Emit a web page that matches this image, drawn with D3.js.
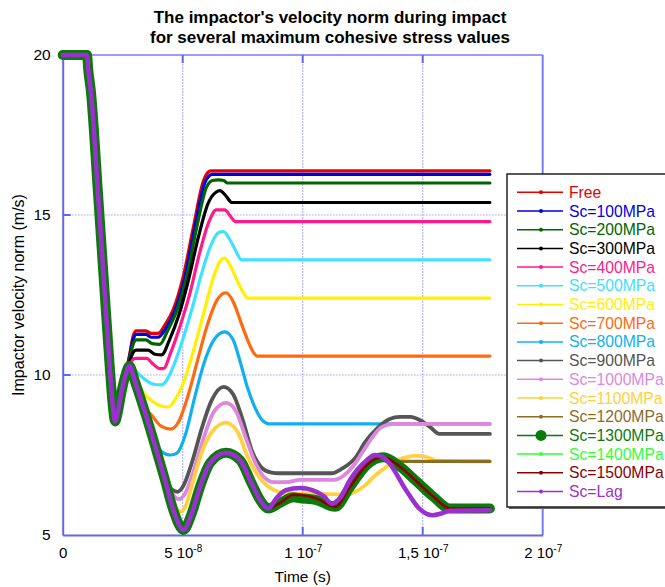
<!DOCTYPE html>
<html>
<head>
<meta charset="utf-8">
<script src="https://cdn.jsdelivr.net/npm/d3@7"></script>
<style>
body { margin: 0; background: #fff; }
text { font-family: "Liberation Sans", Arial, sans-serif; }
</style>
</head>
<body>
<div id="chart"></div>
<script>
// time in units of 1e-8 s, velocity norm in m/s
var startPts = [[0,20],[1.01,20],[1.07,19.5],[1.17,18.9],[1.46,15.8],[1.76,12.45],[1.97,10.15],[2.10,8.95],[2.18,8.55],[2.30,8.85],[2.43,9.4],[2.60,9.95]];
var mainPts = [[2.78,10.28],[3.01,9.8],[3.36,9.0],[3.78,7.97],[4.26,6.72],[4.61,5.78],[5.03,5.16],[5.38,5.68],[5.72,6.5],[6.14,7.25],[6.80,7.57],[7.39,7.34],[7.88,6.6],[8.22,6.1],[8.57,5.83],[9.05,6.0],[9.61,6.18],[9.89,6.15],[10.58,6.09],[11.35,5.88],[11.97,6.5],[12.67,7.19],[13.36,7.43],[14.05,7.14],[14.75,6.67],[15.44,6.2],[16.14,5.83],[17.80,5.83]];

var freePts = [[2.78,10.6],[2.93,11.2],[3.05,11.38],[3.47,11.38],[3.68,11.3],[3.97,11.3],[4.25,11.55],[4.61,12.05],[5.03,13.1],[5.44,14.6],[5.86,16.05],[6.05,16.33],[6.18,16.38],[17.80,16.38]];
var s100Pts = [[2.78,10.55],[2.93,11.1],[3.05,11.27],[3.47,11.27],[3.68,11.18],[3.97,11.18],[4.29,11.45],[4.67,12.0],[5.09,13.05],[5.50,14.6],[5.92,16.0],[6.10,16.22],[6.22,16.27],[17.80,16.27]];
var s200Pts = [[2.78,10.5],[2.93,10.95],[3.05,11.1],[3.47,11.1],[3.72,10.98],[4.05,10.96],[4.38,11.4],[4.75,12.0],[5.15,13.0],[5.58,14.6],[5.98,15.85],[6.25,16.08],[6.5,16.1],[6.71,16.08],[6.85,16.0],[17.80,16.0]];
var s300Pts = [[2.78,10.4],[2.93,10.7],[3.05,10.78],[3.55,10.78],[3.85,10.65],[4.12,10.63],[4.45,11.1],[4.85,11.9],[5.25,13.0],[5.65,14.3],[6.05,15.35],[6.4,15.72],[6.55,15.76],[6.8,15.6],[7.05,15.39],[17.80,15.39]];
var s400Pts = [[2.78,10.3],[3.0,10.52],[3.5,10.52],[3.75,10.35],[4.05,10.2],[4.2,10.2],[4.5,10.7],[4.9,11.55],[5.3,12.55],[5.7,13.8],[6.1,14.8],[6.4,15.16],[6.75,15.16],[7.0,14.95],[7.2,14.79],[17.80,14.79]];
var s500Pts = [[2.78,10.28],[3.0,10.15],[3.36,9.9],[3.75,9.72],[4.1,9.69],[4.3,9.8],[4.6,10.25],[5.0,11.1],[5.4,12.1],[5.8,13.2],[6.2,14.1],[6.5,14.45],[6.7,14.48],[6.95,14.25],[7.2,13.9],[7.45,13.6],[17.80,13.6]];
var s600Pts = [[2.78,10.28],[3.01,9.85],[3.3,9.5],[3.7,9.2],[4.1,9.03],[4.4,9.0],[4.7,9.25],[5.1,9.9],[5.5,10.9],[5.9,12.0],[6.3,13.1],[6.6,13.6],[6.75,13.65],[7.0,13.4],[7.3,12.9],[7.55,12.55],[7.7,12.4],[17.80,12.4]];
var s700Pts = [[3.36,9.05],[3.7,8.75],[4.1,8.4],[4.5,8.31],[4.8,8.5],[5.2,9.3],[5.6,10.4],[6.0,11.5],[6.4,12.3],[6.8,12.57],[7.1,12.3],[7.4,11.7],[7.7,11.1],[7.95,10.7],[8.1,10.59],[17.80,10.59]];
var s800Pts = [[3.78,8.0],[4.1,7.62],[4.5,7.5],[4.75,7.55],[5.1,8.1],[5.5,9.3],[5.9,10.4],[6.3,11.1],[6.75,11.35],[7.1,11.1],[7.4,10.4],[7.7,9.6],[8.0,9.0],[8.3,8.6],[8.6,8.47],[17.80,8.47]];
var s900Pts = [[4.26,6.72],[4.55,6.42],[4.78,6.35],[5.0,6.5],[5.4,7.3],[5.8,8.35],[6.2,9.2],[6.7,9.63],[7.1,9.4],[7.5,8.6],[7.9,7.6],[8.3,7.1],[8.7,6.95],[9.0,6.93],[11.2,6.93],[11.65,7.08],[12.2,7.42],[12.6,7.9],[13.1,8.33],[13.6,8.62],[14.05,8.69],[14.5,8.69],[14.85,8.6],[15.3,8.38],[15.7,8.16],[17.80,8.16]];
var s1000Pts = [[4.35,6.6],[4.6,6.25],[4.85,6.12],[5.1,6.3],[5.5,7.1],[5.9,8.1],[6.3,8.85],[6.8,9.13],[7.2,8.9],[7.6,8.1],[8.0,7.3],[8.4,6.8],[8.8,6.65],[9.3,6.65],[9.9,6.72],[11.3,6.72],[11.7,6.85],[12.1,7.15],[12.5,7.6],[12.9,8.05],[13.3,8.38],[13.8,8.47],[17.80,8.47]];
var s1100Pts = [[4.26,6.75],[4.55,6.1],[4.9,5.73],[5.15,5.95],[5.4,6.6],[5.8,7.6],[6.2,8.2],[6.8,8.51],[7.3,8.2],[7.7,7.45],[8.1,6.9],[8.5,6.55],[9.0,6.35],[9.4,6.3],[11.5,6.27],[11.8,6.25],[12.1,6.32],[12.6,6.55],[13.0,6.85],[13.4,7.08],[13.8,7.3],[14.3,7.43],[14.75,7.47],[15.2,7.43],[15.6,7.32],[17.80,7.3]];
var s1200Tail = [[13.7,7.38],[14.05,7.3],[17.80,7.3]];
var s1500Mid = [[9.61,6.25],[9.89,6.25],[10.58,6.14]];
var lagPts = [[8.9,6.15],[9.3,6.4],[9.89,6.47],[10.4,6.4],[10.9,6.2],[11.2,5.98],[11.6,6.2],[11.97,6.72],[12.67,7.34],[13.0,7.5],[13.3,7.45],[13.6,7.25],[14.3,6.41],[14.85,5.83],[15.4,5.62],[15.8,5.68],[16.14,5.76],[17.80,5.77]];

var seriesNames = ["Free","Sc=100MPa","Sc=200MPa","Sc=300MPa","Sc=400MPa","Sc=500MPa","Sc=600MPa","Sc=700MPa","Sc=800MPa","Sc=900MPa","Sc=1000MPa","Sc=1100MPa","Sc=1200MPa","Sc=1300MPa","Sc=1400MPa","Sc=1500MPa","Sc=Lag"];
var seriesColors = ["#e60000","#0000dd","#006400","#000000","#ff1a8c","#40e0ff","#fff000","#ff6a10","#10b0f0","#555555","#dd88dd","#ffd040","#8b6d1f","#0b7a0b","#33ff33","#8b0000","#9b30d0"];

var xTickVals = [0, 5e-8, 1e-7, 1.5e-7, 2e-7];
var xTickMant = ["0", "5 10", "1 10", "1,5 10", "2 10"];
var xTickExp = ["", "-8", "-7", "-7", "-7"];
var yTickVals = [5, 10, 15, 20];

var mainFull = startPts.concat(mainPts);
function upTo(t) { return mainFull.filter(function(p) { return p[0] <= t + 1e-9; }); }
function from(t) { return mainFull.filter(function(p) { return p[0] >= t - 1e-9; }); }

var seriesData = [
    startPts.concat(freePts),
    startPts.concat(s100Pts),
    startPts.concat(s200Pts),
    startPts.concat(s300Pts),
    startPts.concat(s400Pts),
    startPts.concat(s500Pts),
    startPts.concat(s600Pts),
    upTo(3.01).concat(s700Pts),
    upTo(3.36).concat(s800Pts),
    upTo(3.78).concat(s900Pts),
    upTo(4.26).concat(s1000Pts),
    upTo(3.78).concat(s1100Pts),
    upTo(13.36).concat(s1200Tail),
    mainFull,
    mainFull,
    upTo(9.05).concat(s1500Mid).concat(from(11.35)),
    upTo(8.57).concat(lagPts)
];
var drawOrder = [0,1,2,3,4,5,6,7,8,9,10,11,12,14,13,15,16];

var width = 665, height = 587;
var svg = d3.select("#chart").append("svg").attr("width", width).attr("height", height);

var x = d3.scaleLinear().domain([0, 2e-7]).range([62.7, 542.7]);
var y = d3.scaleLinear().domain([5, 20]).range([535, 55]);

var axisColor = "#6464ee", gridColor = "#b4b4f6";

// grid
svg.append("g").selectAll("line").data(xTickVals.slice(1, 4)).enter().append("line")
    .attr("x1", d => x(d)).attr("x2", d => x(d)).attr("y1", y(20)).attr("y2", y(5))
    .attr("stroke", gridColor).attr("stroke-width", 1.2).attr("stroke-dasharray", "2,1");
svg.append("g").selectAll("line").data([10, 15]).enter().append("line")
    .attr("x1", x(0)).attr("x2", x(2e-7)).attr("y1", d => y(d)).attr("y2", d => y(d))
    .attr("stroke", gridColor).attr("stroke-width", 1.2).attr("stroke-dasharray", "2,1");

// frame
svg.append("line").attr("x1", x(0)).attr("x2", x(2e-7)).attr("y1", y(20)).attr("y2", y(20))
    .attr("stroke", "#9a9af8").attr("stroke-width", 2);
svg.append("line").attr("x1", x(2e-7)).attr("x2", x(2e-7)).attr("y1", y(20)).attr("y2", y(5))
    .attr("stroke", "#7a7af2").attr("stroke-width", 2);

// inner ticks on every side
var tk = svg.append("g").attr("stroke", axisColor).attr("stroke-width", 2);
xTickVals.slice(1, 4).forEach(function(d) {
    tk.append("line").attr("x1", x(d)).attr("x2", x(d)).attr("y1", y(5)).attr("y2", y(5) - 8);
    tk.append("line").attr("x1", x(d)).attr("x2", x(d)).attr("y1", y(20)).attr("y2", y(20) + 8);
});
[10, 15].forEach(function(d) {
    tk.append("line").attr("x1", x(0)).attr("x2", x(0) + 8).attr("y1", y(d)).attr("y2", y(d));
    tk.append("line").attr("x1", x(2e-7)).attr("x2", x(2e-7) - 8).attr("y1", y(d)).attr("y2", y(d));
});

var xAxis = svg.append("g").attr("transform", "translate(0," + y(5) + ")")
    .call(d3.axisBottom(x).tickValues(xTickVals).tickSize(0).tickPadding(12).tickFormat(""));
xAxis.select(".domain").attr("stroke", axisColor).attr("stroke-width", 2);
xAxis.selectAll(".tick text").each(function(d, i) {
    var t = d3.select(this).attr("font-size", 15).attr("fill", "#000").attr("font-family", null);
    t.append("tspan").text(xTickMant[i]);
    if (xTickExp[i]) t.append("tspan").attr("dy", -6).attr("font-size", 10).text(xTickExp[i]);
});

var yAxis = svg.append("g").attr("transform", "translate(" + x(0) + ",0)")
    .call(d3.axisLeft(y).tickValues(yTickVals).tickSize(0).tickPadding(12));
yAxis.select(".domain").attr("stroke", axisColor).attr("stroke-width", 2);
yAxis.selectAll(".tick text").attr("font-size", 15.5).attr("fill", "#000").attr("font-family", null);

// curves
var line = d3.line().x(d => x(d[0] * 1e-8)).y(d => y(d[1])).curve(d3.curveMonotoneX);
drawOrder.forEach(function(i) {
    var w = 3.2;
    if (i >= 9 && i <= 11) w = 3.8;
    if (i == 13) w = 10;
    if (i == 15) w = 2.6;
    if (i == 16) w = 4.5;
    svg.append("path").datum(seriesData[i])
        .attr("fill", "none").attr("stroke", seriesColors[i]).attr("stroke-width", w)
        .attr("stroke-linejoin", "round").attr("stroke-linecap", "round")
        .attr("d", line);
});

// titles
svg.append("text").attr("x", 330).attr("y", 23).attr("text-anchor", "middle")
    .attr("font-size", 17).attr("font-weight", "bold").text("The impactor's velocity norm during impact");
svg.append("text").attr("x", 330).attr("y", 43).attr("text-anchor", "middle")
    .attr("font-size", 17).attr("font-weight", "bold").text("for several maximum cohesive stress values");
svg.append("text").attr("x", x(1e-7)).attr("y", 582).attr("text-anchor", "middle")
    .attr("font-size", 15.5).text("Time (s)");
svg.append("text").attr("transform", "translate(24," + y(12.5) + ") rotate(-90)")
    .attr("text-anchor", "middle").attr("font-size", 16).text("Impactor velocity norm (m/s)");

// legend
var lg = svg.append("g");
lg.append("rect").attr("x", 509).attr("y", 176).attr("width", 200).attr("height", 333).attr("fill", "#666");
lg.append("rect").attr("x", 507).attr("y", 174).attr("width", 200).attr("height", 333)
    .attr("fill", "#fff").attr("stroke", "#222").attr("stroke-width", 1.5);
seriesNames.forEach(function(name, i) {
    var ly = 192.3 + i * 18.7;
    lg.append("line").attr("x1", 517).attr("x2", 563).attr("y1", ly).attr("y2", ly)
        .attr("stroke", seriesColors[i]).attr("stroke-width", 1.5);
    lg.append("circle").attr("cx", 541).attr("cy", ly).attr("r", i == 13 ? 5.5 : 2)
        .attr("fill", seriesColors[i]);
    lg.append("text").attr("x", 569).attr("y", ly + 5.5).attr("font-size", 15.7)
        .attr("fill", seriesColors[i]).text(name);
});
</script>
</body>
</html>
